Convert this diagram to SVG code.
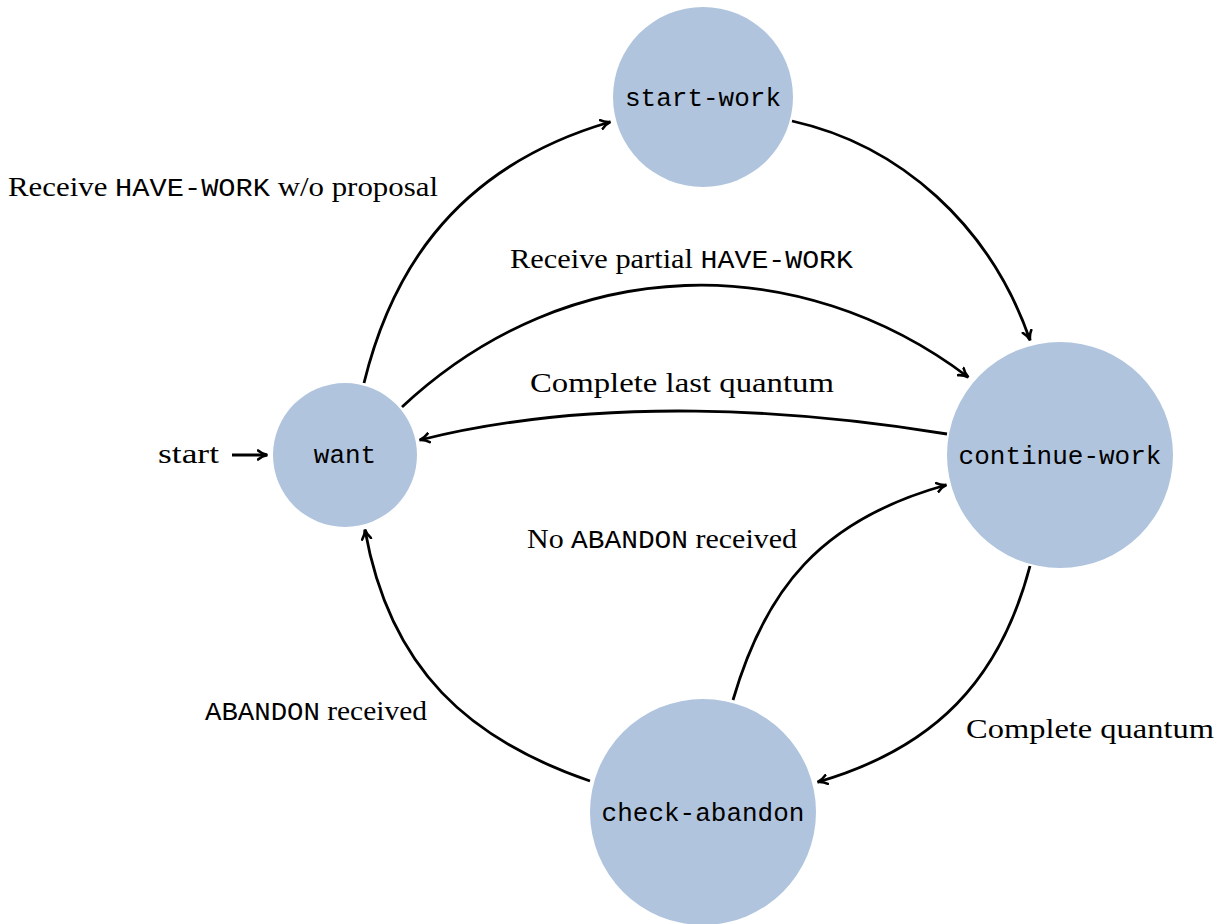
<svg xmlns="http://www.w3.org/2000/svg" width="1226" height="924" viewBox="0 0 1226 924">
<defs>
<style>
.node{fill:#B0C4DE;}
.nl{font-family:"Liberation Mono","DejaVu Sans Mono",monospace;font-size:26px;fill:#000;text-anchor:middle;}
.lbl{font-family:"Liberation Serif","DejaVu Serif",serif;font-size:28px;fill:#000;}
.tt{font-family:"Liberation Mono","DejaVu Sans Mono",monospace;font-size:26px;}
.edge{fill:none;stroke:#000;stroke-width:2.8;marker-end:url(#arr);}
</style>
<marker id="arr" viewBox="0 0 12 12" refX="10" refY="6" markerWidth="12" markerHeight="12" markerUnits="userSpaceOnUse" orient="auto">
<path d="M1,1.5 Q5,5 10.5,6 Q5,7 1,10.5" fill="none" stroke="#000" stroke-width="2.6" stroke-linecap="round"/>
</marker>
</defs>
<rect width="1226" height="924" fill="#fff"/>
<g id="connectors">
<path class="edge" d="M232,455 L267,455"/>
<path class="edge" d="M364,383 C388,285 445,170 610,122"/>
<path class="edge" d="M792,121 C900,145 990,225 1030,340"/>
<path class="edge" d="M402,407 C570,250 800,250 968,377"/>
<path class="edge" d="M947,434 C800,410 600,395 420,440"/>
<path class="edge" d="M733,700 C765,590 820,520 946,485"/>
<path class="edge" d="M1030,566 C1000,680 935,748 818,782"/>
<path class="edge" d="M590,781 C470,740 390,670 365,530"/>
</g>
<g id="want"><circle class="node" cx="345" cy="455" r="72"/><text class="nl" x="345" y="463">want</text></g>
<g id="start-work"><circle class="node" cx="703" cy="97" r="90"/><text class="nl" x="703" y="106">start-work</text></g>
<g id="continue-work"><circle class="node" cx="1060" cy="455" r="113"/><text class="nl" x="1060" y="464">continue-work</text></g>
<g id="check-abandon"><circle class="node" cx="703" cy="812" r="113"/><text class="nl" x="703" y="821">check-abandon</text></g>
<g id="labels">
<text class="lbl" x="8" y="196" textLength="430" lengthAdjust="spacingAndGlyphs">Receive <tspan class="tt">HAVE-WORK</tspan> w/o proposal</text>
<text class="lbl" x="510" y="268" textLength="343" lengthAdjust="spacingAndGlyphs">Receive partial <tspan class="tt">HAVE-WORK</tspan></text>
<text class="lbl" x="530" y="392" textLength="304" lengthAdjust="spacingAndGlyphs">Complete last quantum</text>
<text class="lbl" x="527" y="548" textLength="270" lengthAdjust="spacingAndGlyphs">No <tspan class="tt">ABANDON</tspan> received</text>
<text class="lbl" x="205" y="720" textLength="222" lengthAdjust="spacingAndGlyphs"><tspan class="tt">ABANDON</tspan> received</text>
<text class="lbl" x="966" y="738" textLength="248" lengthAdjust="spacingAndGlyphs">Complete quantum</text>
<text class="lbl" x="158" y="463" textLength="61" lengthAdjust="spacingAndGlyphs">start</text>
</g>
</svg>
